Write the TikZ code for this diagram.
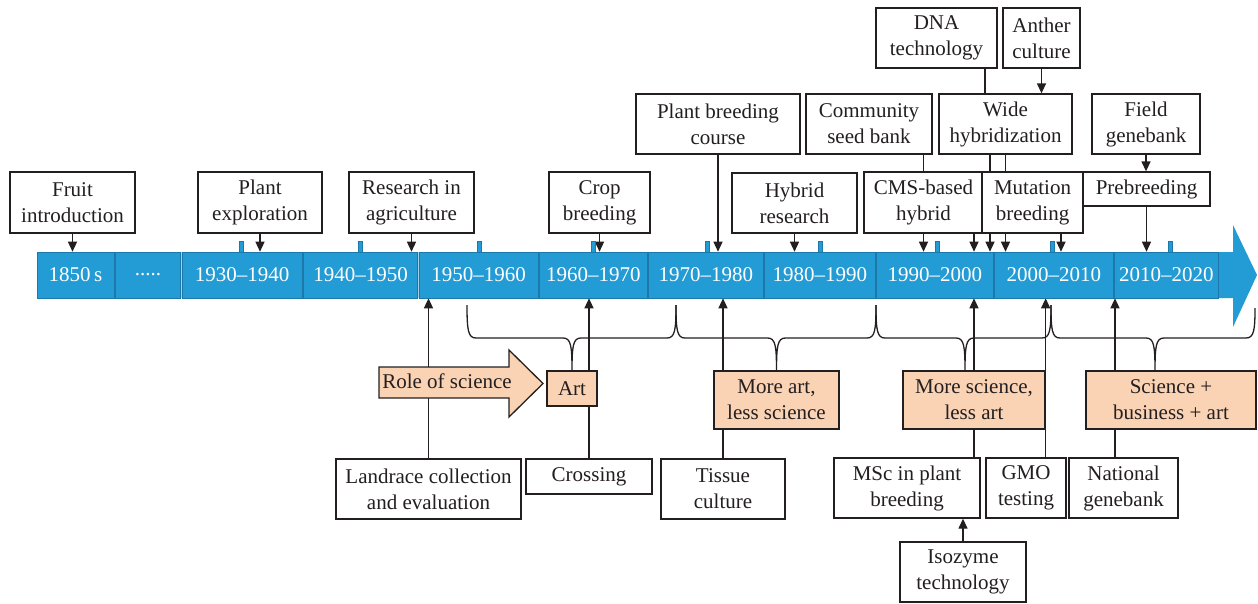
\documentclass[tikz,border=0pt]{standalone}
\usepackage{fontspec}
\setmainfont{Liberation Serif}
\usetikzlibrary{arrows.meta,calc}
\definecolor{barblue}{HTML}{239BD5}
\definecolor{bardark}{HTML}{1C78A8}
\definecolor{barsep}{HTML}{A9CFE4}
\definecolor{peach}{HTML}{FAD2B4}
\definecolor{ink}{HTML}{231F20}
\pgfdeclarelayer{bg}
\pgfsetlayers{bg,main}
\newcommand{\mybrace}[5]{%
 \draw[brace] (#1,#4) .. controls (#1,330) and ({#1+1},338) .. ({#1+9},338) -- ({#2-9},338)
   .. controls ({#2-1},338) and (#2,346) .. (#2,371)
   .. controls (#2,346) and ({#2+1},338) .. ({#2+9},338) -- ({#3-9},338)
   .. controls ({#3-1},338) and (#3,330) .. (#3,#5);}
\begin{document}
\begin{tikzpicture}[x=1pt,y=-1pt, font=\fontsize{21}{26}\selectfont,
 box/.style={draw=ink, fill=white, line width=1.3pt, text=ink, align=center, inner sep=0pt},
 pbox/.style={box, fill=peach},
 seg/.style={fill=barblue, draw=bardark, line width=0.6pt, text=white, inner sep=0pt, minimum height=46pt},
 tickmark/.style={fill=barblue, draw=bardark, line width=0.4pt, minimum width=4pt, minimum height=11pt, inner sep=0pt},
 arr/.style={draw=ink, line width=1.3pt, -{Triangle[length=10pt,width=9pt]}},
 link/.style={draw=ink, line width=1.3pt},
 brace/.style={draw=ink, line width=1.3pt}]
\useasboundingbox (0,0) rectangle (1258,603);

% timeline bar
\fill[barblue] (37,252) -- (1233,252) -- (1233,225) -- (1257,275) -- (1233,327) -- (1233,298) -- (37,298) -- cycle;
\fill[barsep] (37,252) rectangle (1218,298);
\node[seg, minimum width=77pt]   (s1)  at (75.5,275)   {1850\,s};
\node[seg, minimum width=65pt]   (s2)  at (148,275)    {.....};
\node[seg, minimum width=120pt]  (s3)  at (242,275)    {1930--1940};
\node[seg, minimum width=114pt]  (s4)  at (360.5,275)  {1940--1950};
\node[seg, minimum width=119pt]  (s5)  at (478.5,275)  {1950--1960};
\node[seg, minimum width=107.5pt] (s6) at (593.25,275) {1960--1970};
\node[seg, minimum width=114.5pt] (s7) at (705.75,275) {1970--1980};
\node[seg, minimum width=110.5pt] (s8) at (819.75,275) {1980--1990};
\node[seg, minimum width=116.5pt] (s9) at (934.75,275) {1990--2000};
\node[seg, minimum width=118.5pt] (s10) at (1053.75,275) {2000--2010};
\node[seg, minimum width=103.5pt] (s11) at (1166.25,275) {2010--2020};
\foreach \t in {241,360,479,593,707,820,937,1052,1170}
  \node[tickmark] at (\t,246.5) {};

% top boxes
\node[box, minimum width=125pt, minimum height=61pt] (fruit)    at (72.5,202.5)  {Fruit\\introduction};
\node[box, minimum width=124pt, minimum height=61pt] (explor)   at (260,202.5)   {Plant\\exploration};
\node[box, minimum width=125pt, minimum height=61pt] (research) at (411.5,202.5) {Research in\\agriculture};
\node[box, minimum width=101pt, minimum height=61pt] (crop)     at (599.5,202.5) {Crop\\breeding};
\node[box, minimum width=164pt, minimum height=60pt] (course)   at (718,124)     {Plant breeding\\course};
\node[box, minimum width=126pt, minimum height=60pt] (community) at (869,124)    {Community\\seed bank};
\node[box, minimum width=125pt, minimum height=60pt] (hybrid)   at (794.5,203)   {Hybrid\\research};
\node[box, minimum width=119pt, minimum height=61pt] (cms)      at (923.5,202.5) {CMS-based\\hybrid};
\node[box, minimum width=101pt, minimum height=61pt] (mutation) at (1032.5,202.5) {Mutation\\breeding};
\node[box, minimum width=127pt, minimum height=34pt] (prebreed) at (1146.5,189)  {Prebreeding};
\node[box, minimum width=108pt, minimum height=60pt] (field)    at (1146,124)    {Field\\genebank};
\node[box, minimum width=133pt, minimum height=60pt] (wide)     at (1005.5,124)  {Wide\\hybridization};
\node[box, minimum width=121pt, minimum height=60pt] (dna)      at (936.5,38)    {DNA\\technology};
\node[box, minimum width=77pt,  minimum height=60pt] (anther)   at (1041.5,38)   {Anther\\culture};

% bottom boxes
\node[box, minimum width=185pt, minimum height=60pt] (landrace) at (428.5,489) {Landrace collection\\and evaluation};
\node[box, minimum width=126pt, minimum height=35pt] (crossing) at (589,476.5) {Crossing};
\node[box, minimum width=124pt, minimum height=60pt] (tissue)   at (723,489)   {Tissue\\culture};
\node[box, minimum width=146pt, minimum height=60pt] (msc)      at (907,488)   {MSc in plant\\breeding};
\node[box, minimum width=80pt,  minimum height=60pt] (gmo)      at (1026,488)  {GMO\\testing};
\node[box, minimum width=109pt, minimum height=60pt] (national) at (1123.5,488) {National\\genebank};
\node[box, minimum width=126pt, minimum height=60pt] (isozyme)  at (963,572)   {Isozyme\\technology};

% peach boxes
\draw[draw=ink, fill=peach, line width=1.3pt, line join=miter] (379,367) -- (509,367) -- (509,350) -- (543,383.5) -- (509,417) -- (509,398) -- (379,398) -- cycle;
\node[text=ink] (role) at (447,381) {Role of science};
\node[pbox, minimum width=50pt,  minimum height=35pt] (art)     at (572,388.5) {Art};
\node[pbox, minimum width=125pt, minimum height=58pt] (moreart) at (776.5,400) {More art,\\less science};
\node[pbox, minimum width=142pt, minimum height=58pt] (moresci) at (974,400)   {More science,\\less art};
\node[pbox, minimum width=170pt, minimum height=58pt] (scibus)  at (1171,400)  {Science +\\business + art};

\begin{pgfonlayer}{bg}
% top connectors
\draw[arr] (fruit.south) -- (fruit.south |- s1.north);
\draw[arr] (explor.south) -- (explor.south |- s3.north);
\draw[arr] (research.south) -- (research.south |- s4.north);
\draw[arr] (crop.south) -- (crop.south |- s6.north);
\draw[arr] (course.south) -- (course.south |- s7.north);
\draw[arr] (hybrid.south) -- (hybrid.south |- s8.north);
\draw[link] (cms.north |- community.south) -- (cms.north);
\draw[arr] (cms.south) -- (cms.south |- s9.north);
\draw[arr] (moresci.north |- cms.south) -- (moresci.north |- s9.north);
\draw[arr] ($(wide.south)+(-15.5,0)$) coordinate (w1) -- (w1 |- s9.north);
\draw[arr] (wide.south) -- (wide.south |- s10.north);
\draw[arr] ($(mutation.south)+(28.5,0)$) coordinate (m1) -- (m1 |- s10.north);
\draw[link] ($(dna.south)+(48.5,0)$) coordinate (d1) -- (d1 |- wide.north);
\draw[arr] (anther.south) -- (anther.south |- wide.north);
\draw[arr] (field.south) -- (field.south |- prebreed.north);
\draw[arr] (prebreed.south) -- (prebreed.south |- s11.north);
% bottom connectors
\draw[arr] (landrace.north) -- (landrace.north |- s5.south);
\draw[arr] (crossing.north) -- (crossing.north |- s6.south);
\draw[arr] (tissue.north) -- (tissue.north |- s7.south);
\draw[arr] (moresci.north |- msc.north) -- (moresci.north |- s9.south);
\draw[arr] (moresci.east |- gmo.north) -- (moresci.east |- s10.south);
\draw[arr] ($(national.north)+(-8.5,0)$) coordinate (n1) -- (n1 |- s11.south);
\draw[arr] (isozyme.north) -- (isozyme.north |- msc.south);
% braces
\mybrace{467}{572}{676}{305}{305}
\mybrace{676}{776.5}{876}{305}{305}
\mybrace{876}{965}{1051}{305}{305}
\mybrace{1051}{1155}{1255}{305}{308}
\end{pgfonlayer}
\end{tikzpicture}
\end{document}
